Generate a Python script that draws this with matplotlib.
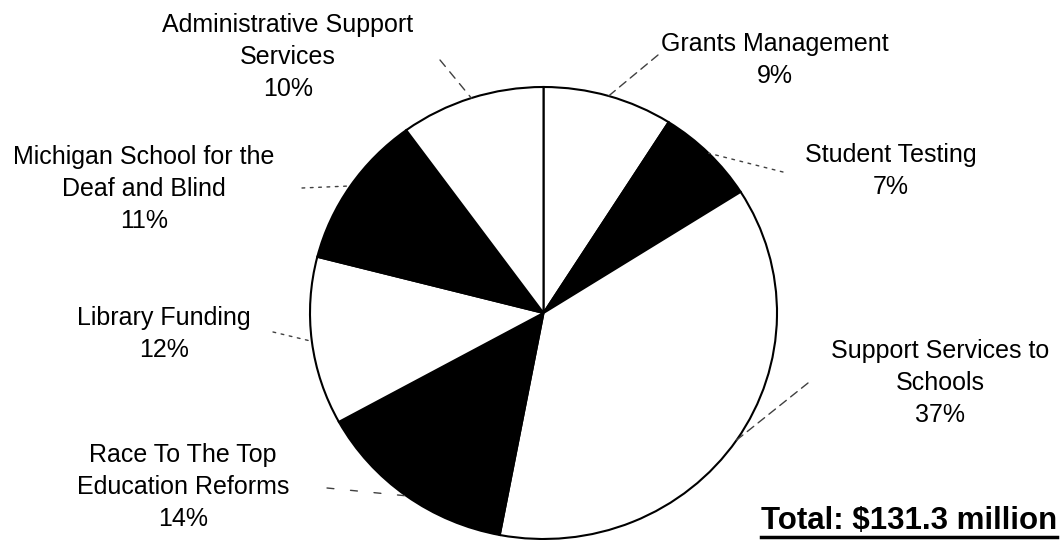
import matplotlib.pyplot as plt
import numpy as np

plt.rcParams['font.family'] = ['Liberation Sans', 'DejaVu Sans']

labels = ["Grants Management", "Student Testing", "Support Services to\nSchools",
          "Race To The Top\nEducation Reforms", "Library Funding",
          "Michigan School for the\nDeaf and Blind", "Administrative Support\nServices"]
shares = [9, 7, 37, 14, 12, 11, 10]
colors = ["white", "black", "white", "black", "white", "black", "white"]
total_text = "Total: $131.3 million"

# layout: label centres and leader outer ends, in image pixels (from top-left)
label_pos = [(775, 60), (891, 171), (940, 383), (183, 487), (164, 334), (144, 189), (288, 57)]
leader_out = [(658, 55), (783, 172), (808, 383), (327, 488), (273, 332), (302, 188), (440, 60)]
leader_style = [(0, (6, 4)), (0, (2, 4)), (0, (6, 4)), (0, (5, 12)), (0, (2, 4)), (0, (2, 4)), (0, (6, 5))]

W, H = 1060, 540
cx, cy, rx, ry = 543.5, 313, 233.5, 226

fig = plt.figure(figsize=(W / 100, H / 100), dpi=100)
ax = fig.add_axes([0, 0, 1, 1])
wedges, _ = ax.pie(shares, colors=colors, startangle=90, counterclock=False,
                   wedgeprops=dict(edgecolor='black', linewidth=1.5))
ax.set_aspect('auto')
ax.set_xlim(-cx / rx, (W - cx) / rx)
ax.set_ylim(-(H - cy) / ry, cy / ry)
ax.axis('off')

for w, lab, share, (px, py), (ox, oy), ls in zip(wedges, labels, shares, label_pos, leader_out, leader_style):
    ang = np.deg2rad((w.theta1 + w.theta2) / 2)
    ax.annotate('', xy=(np.cos(ang), np.sin(ang)), xycoords='data',
                xytext=(ox, H - oy), textcoords='figure pixels',
                arrowprops=dict(arrowstyle='-', color='0.25', lw=1, linestyle=ls,
                                shrinkA=0, shrinkB=0))
    fig.text(px / W, 1 - py / H, f"{lab}\n{share}%", ha='center', va='center',
             fontsize=18, linespacing=1.42)

t = fig.text(1057 / W, 1 - 521 / H, total_text, ha='right', va='center',
             fontsize=22.5, fontweight='bold')
fig.canvas.draw()
bb = t.get_window_extent()
fig.add_artist(plt.Line2D([bb.x0 / W, bb.x1 / W], [(H - 537) / H, (H - 537) / H],
                          transform=fig.transFigure, color='black', lw=2.5))

fig.savefig('out.png', dpi=100)
